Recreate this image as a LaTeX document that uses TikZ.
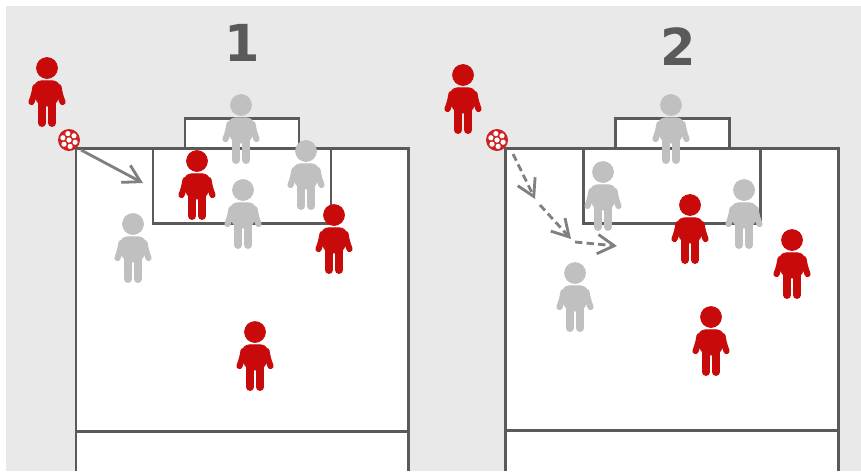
\documentclass[tikz,border=0pt]{standalone}
\usepackage{fontspec}
\setmainfont{DejaVu Sans}
\usetikzlibrary{arrows.meta,calc}
\definecolor{pdpanel}{HTML}{E9E9E9}
\definecolor{pdline}{HTML}{5A5A5A}
\definecolor{pdarrow}{HTML}{808080}
\definecolor{pdred}{HTML}{C80A0A}
\definecolor{pdgrey}{HTML}{C0C0C0}
\tikzset{
  player/.pic={
    \fill[pic actions] (0,0) circle (10.5);
    \fill[pic actions,rounded corners=4.5pt] (-13.5,12.8) -- (13.5,12.8) -- (10,38) -- (-10,38) -- cycle;
    \draw[pic actions,line width=3.5pt,line cap=round] (-11.5,19) to[bend left=6] (-15.5,34);
    \draw[pic actions,line width=3.5pt,line cap=round] (11.5,19) to[bend right=6] (15.5,34);
    \draw[pic actions,line width=4.5pt,line cap=round] (-5,30) -- (-5,55);
    \draw[pic actions,line width=4.5pt,line cap=round] (5,30) -- (5,55);
  },
  redplayer/.style={draw=pdred,fill=pdred},
  greyplayer/.style={draw=pdgrey,fill=pdgrey},
  pitchline/.style={draw=pdline,line width=1.7pt,fill=white},
  runarrow/.style={pdarrow,line width=1.6pt,-{Straight Barb[length=9.5pt,width=11pt,line width=1.6pt]}},
  passarrow/.style={runarrow,dash pattern=on 4.2pt off 2.4pt},
  panelnum/.style={font=\fontsize{29}{32}\selectfont\bfseries,text=pdline}
}
\newcommand{\ball}[1]{
  \fill[pdred!90] (#1) circle (11);
  \fill[white] (#1) circle (2.6);
  \foreach \a in {20,80,...,320} {
    \fill[white] ($(#1)+(\a:6.5)$) circle (2.6);
  }
}
\begin{document}
\begin{tikzpicture}[x=0.02cm,y=-0.02cm]
  \useasboundingbox (0,0) rectangle (861,471);
  \fill[pdpanel] (6,6) rectangle (861,471);
  % left panel
  \draw[pitchline] (185,118) rectangle (299,148);
  \draw[pitchline] (76,471) -- (76,148) -- (408,148) -- (408,471);
  \draw[pitchline,fill=none] (76,431) -- (408,431);
  \draw[pitchline,fill=none] (153,148) rectangle (331,223);
  \node[panelnum] (num1) at (242,43) {1};
  % right panel
  \draw[pitchline] (615,118) rectangle (729,148);
  \draw[pitchline] (505,471) -- (505,148) -- (838,148) -- (838,471);
  \draw[pitchline,fill=none] (505,430) -- (838,430);
  \draw[pitchline,fill=none] (583,148) rectangle (760,223);
  \node[panelnum] (num2) at (678,47) {2};
  % players, left
  \pic[redplayer] at (47,68) {player};
  \pic[greyplayer] at (241,105) {player};
  \pic[greyplayer] at (306,151) {player};
  \pic[redplayer] at (197,161) {player};
  \pic[greyplayer] at (243,190) {player};
  \pic[greyplayer] at (133,224) {player};
  \pic[redplayer] at (334,215) {player};
  \pic[redplayer] at (255,332) {player};
  % players, right
  \pic[redplayer] at (463,75) {player};
  \pic[greyplayer] at (671,105) {player};
  \pic[greyplayer] at (603,172) {player};
  \pic[redplayer] at (690,205) {player};
  \pic[greyplayer] at (744,190) {player};
  \pic[greyplayer] at (575,273) {player};
  \pic[redplayer] at (792,240) {player};
  \pic[redplayer] at (711,317) {player};
  % balls and arrows
  \ball{69,140}
  \ball{497,140}
  \coordinate (a0) at (81,150);
  \coordinate (a1) at (143,183);
  \draw[runarrow] (a0) -- (a1);
  \coordinate (b0) at (513,154);
  \coordinate (b1) at (535,199);
  \coordinate (b2) at (540,205);
  \coordinate (b3) at (571,239);
  \coordinate (b4) at (575,242);
  \coordinate (b5) at (617,246);
  \draw[passarrow] (b0) -- (b1);
  \draw[passarrow] (b2) -- (b3);
  \draw[passarrow] (b4) -- (b5);
\end{tikzpicture}
\end{document}
